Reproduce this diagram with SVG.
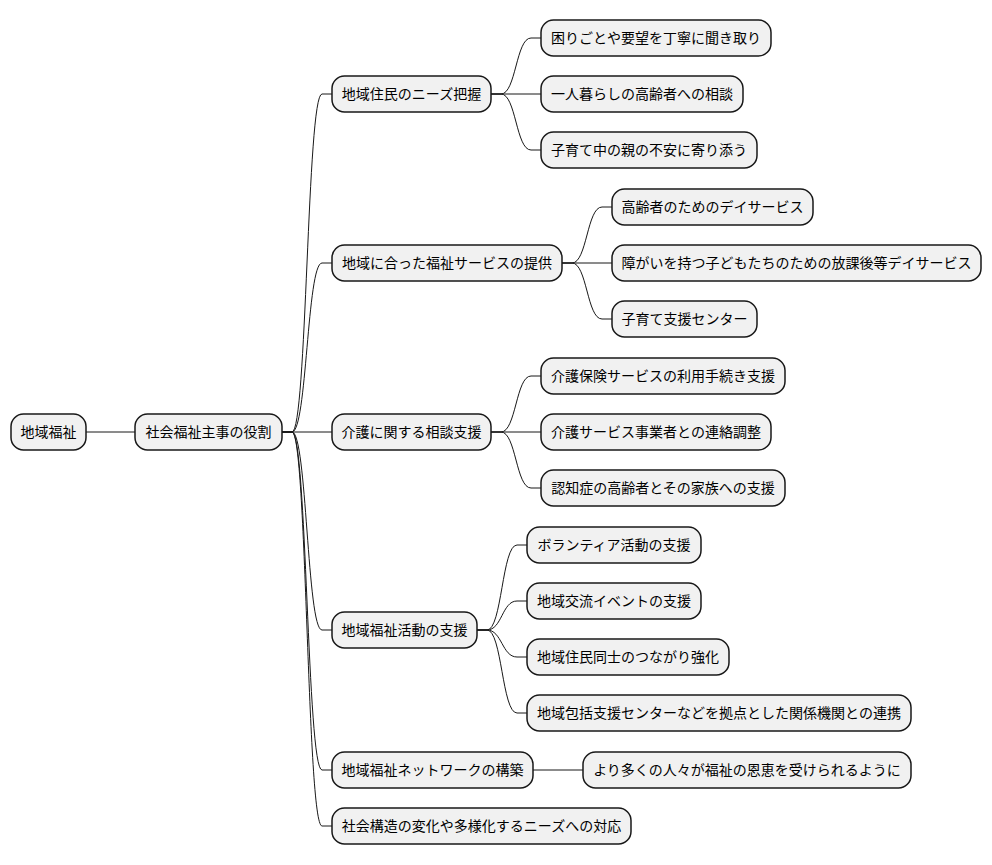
<svg xmlns="http://www.w3.org/2000/svg" width="992" height="865" viewBox="0 0 992 865">
<style>
.n rect{fill:#F1F1F1;stroke:#181818;stroke-width:1.5}
.n text{font-family:"Noto Sans CJK JP","Noto Sans",sans-serif;font-size:14px;fill:#000;text-anchor:middle}
.c path{fill:none;stroke:#181818;stroke-width:1}
</style>
<rect width="992" height="865" fill="#FFFFFF"/>
<g class="c">
<path d="M86,432 L135,432"/>
<path d="M282,432 L292,432 C307,432 307,94 322,94 L332,94"/>
<path d="M282,432 L292,432 C307,432 307,263 322,263 L332,263"/>
<path d="M282,432 L332,432"/>
<path d="M282,432 L292,432 C307,432 307,630 322,630 L332,630"/>
<path d="M282,432 L292,432 C307,432 307,770 322,770 L332,770"/>
<path d="M282,432 L292,432 C307,432 307,826 322,826 L332,826"/>
<path d="M491,94 L501,94 C516,94 516,38 531,38 L541,38"/>
<path d="M491,94 L541,94"/>
<path d="M491,94 L501,94 C516,94 516,150 531,150 L541,150"/>
<path d="M562,263 L572,263 C587,263 587,207 602,207 L612,207"/>
<path d="M562,263 L612,263"/>
<path d="M562,263 L572,263 C587,263 587,319 602,319 L612,319"/>
<path d="M491,432 L501,432 C516,432 516,376 531,376 L541,376"/>
<path d="M491,432 L541,432"/>
<path d="M491,432 L501,432 C516,432 516,488 531,488 L541,488"/>
<path d="M477,630 L487,630 C502,630 502,545 517,545 L527,545"/>
<path d="M477,630 L487,630 C502,630 502,601 517,601 L527,601"/>
<path d="M477,630 L487,630 C502,630 502,657 517,657 L527,657"/>
<path d="M477,630 L487,630 C502,630 502,713 517,713 L527,713"/>
<path d="M533,770 L583,770"/>
</g>
<g id="root" class="n"><rect x="11" y="414" width="75" height="36" rx="12.5"/><text x="48.5" y="437">地域福祉</text></g>
<g id="role" class="n"><rect x="135" y="414" width="147" height="36" rx="12.5"/><text x="208.5" y="437">社会福祉主事の役割</text></g>
<g id="a" class="n"><rect x="332" y="76" width="159" height="36" rx="12.5"/><text x="411.5" y="99">地域住民のニーズ把握</text></g>
<g id="b" class="n"><rect x="332" y="245" width="230" height="36" rx="12.5"/><text x="447" y="268">地域に合った福祉サービスの提供</text></g>
<g id="c" class="n"><rect x="332" y="414" width="159" height="36" rx="12.5"/><text x="411.5" y="437">介護に関する相談支援</text></g>
<g id="d" class="n"><rect x="332" y="612" width="145" height="36" rx="12.5"/><text x="404.5" y="635">地域福祉活動の支援</text></g>
<g id="e" class="n"><rect x="332" y="752" width="201" height="36" rx="12.5"/><text x="432.5" y="775">地域福祉ネットワークの構築</text></g>
<g id="f" class="n"><rect x="332" y="808" width="299" height="36" rx="12.5"/><text x="481.5" y="831">社会構造の変化や多様化するニーズへの対応</text></g>
<g id="a1" class="n"><rect x="541" y="20" width="230" height="36" rx="12.5"/><text x="656" y="43">困りごとや要望を丁寧に聞き取り</text></g>
<g id="a2" class="n"><rect x="541" y="76" width="202" height="36" rx="12.5"/><text x="642" y="99">一人暮らしの高齢者への相談</text></g>
<g id="a3" class="n"><rect x="541" y="132" width="216" height="36" rx="12.5"/><text x="649" y="155">子育て中の親の不安に寄り添う</text></g>
<g id="b1" class="n"><rect x="612" y="189" width="201" height="36" rx="12.5"/><text x="712.5" y="212">高齢者のためのデイサービス</text></g>
<g id="b2" class="n"><rect x="612" y="245" width="369" height="36" rx="12.5"/><text x="796.5" y="268">障がいを持つ子どもたちのための放課後等デイサービス</text></g>
<g id="b3" class="n"><rect x="612" y="301" width="145" height="36" rx="12.5"/><text x="684.5" y="324">子育て支援センター</text></g>
<g id="c1" class="n"><rect x="541" y="358" width="244" height="36" rx="12.5"/><text x="663" y="381">介護保険サービスの利用手続き支援</text></g>
<g id="c2" class="n"><rect x="541" y="414" width="230" height="36" rx="12.5"/><text x="656" y="437">介護サービス事業者との連絡調整</text></g>
<g id="c3" class="n"><rect x="541" y="470" width="244" height="36" rx="12.5"/><text x="663" y="493">認知症の高齢者とその家族への支援</text></g>
<g id="d1" class="n"><rect x="527" y="527" width="174" height="36" rx="12.5"/><text x="614" y="550">ボランティア活動の支援</text></g>
<g id="d2" class="n"><rect x="527" y="583" width="174" height="36" rx="12.5"/><text x="614" y="606">地域交流イベントの支援</text></g>
<g id="d3" class="n"><rect x="527" y="639" width="202" height="36" rx="12.5"/><text x="628" y="662">地域住民同士のつながり強化</text></g>
<g id="d4" class="n"><rect x="527" y="695" width="384" height="36" rx="12.5"/><text x="719" y="718">地域包括支援センターなどを拠点とした関係機関との連携</text></g>
<g id="e1" class="n"><rect x="583" y="752" width="328" height="36" rx="12.5"/><text x="747" y="775">より多くの人々が福祉の恩恵を受けられるように</text></g>
</svg>
